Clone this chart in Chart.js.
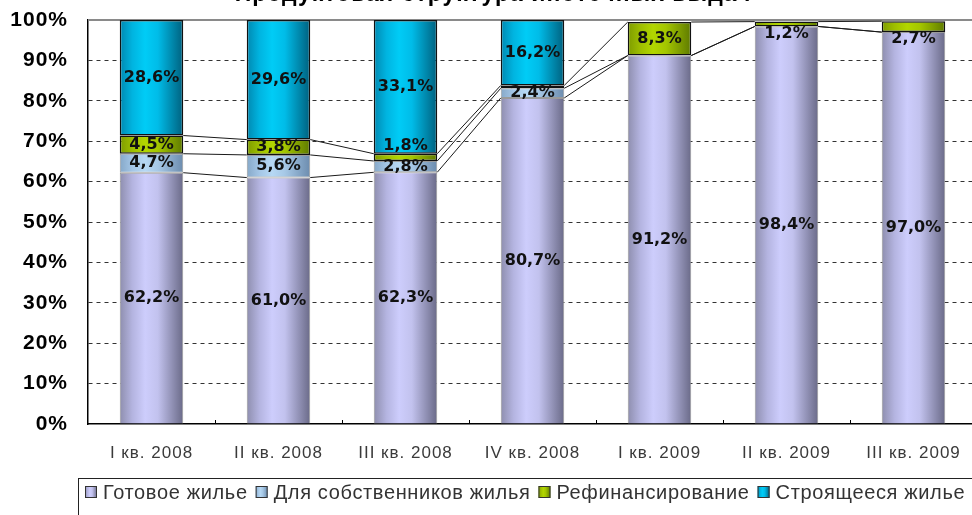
<!DOCTYPE html>
<html lang="ru">
<head>
<meta charset="utf-8">
<script src="https://cdn.jsdelivr.net/npm/chart.js@4.4.1/dist/chart.umd.min.js"></script>
<style>
  html, body { margin: 0; padding: 0; background: #fff; overflow: hidden; }
  #wrap { position: absolute; left: 0; top: -14px; width: 980px; height: 529px; }
</style>
</head>
<body>
<div id="wrap"><canvas id="mortgageChart"></canvas></div>
<script>
const quarters = ["I кв. 2008", "II кв. 2008", "III кв. 2008", "IV кв. 2008", "I кв. 2009", "II кв. 2009", "III кв. 2009"];
const readyHousing = [62.2, 61.0, 62.3, 80.7, 91.2, 98.4, 97.0];
const forOwners = [4.7, 5.6, 2.8, 2.4, 0, 0, 0];
const refinancing = [4.5, 3.8, 1.8, 0.7, 8.3, 1.2, 2.7];
const underConstruction = [28.6, 29.6, 33.1, 16.2, 0, 0, 0];
const percentTicks = [0, 10, 20, 30, 40, 50, 60, 70, 80, 90, 100];

const BAR_SHARE = 0.5;

// horizontal "cylinder" shading for each bar
function cylinder(stops) {
    return (c) => {
        const chart = c.chart;
        const xs = chart.scales.x;
        if (!chart.chartArea || !xs || c.dataIndex === undefined) return stops[2][1];
        const cx = xs.getPixelForValue(c.dataIndex);
        const half = (xs.width / quarters.length) * BAR_SHARE / 2;
        const g = chart.ctx.createLinearGradient(cx - half, 0, cx + half, 0);
        stops.forEach(([o, col]) => g.addColorStop(o, col));
        return g;
    };
}

const lavender = [[0, "#8e8eae"], [0.2, "#b4b4e0"], [0.4, "#cdcdfc"], [0.6, "#c2c2ee"], [1, "#6a6a88"]];
const paleBlue = [[0, "#86a8c8"], [0.2, "#a4c6e6"], [0.4, "#b6d8f4"], [0.6, "#a6c8e6"], [1, "#6c8cae"]];
const olive = [[0, "#7e9c00"], [0.2, "#9ebe00"], [0.4, "#b2d600"], [0.6, "#a4c600"], [1, "#5e7a00"]];
const azure = [[0, "#0088b0"], [0.2, "#00b4e0"], [0.4, "#00ccf6"], [0.6, "#00bce8"], [1, "#00607e"]];

const fmt = (v) => v.toFixed(1).replace(".", ",") + "%";

// axis text is slightly letter-spaced; switched off again before the bars
const axisSpacing = {
    id: "axisSpacing",
    beforeDraw(chart) { chart.ctx.letterSpacing = "1px"; },
    beforeDatasetsDraw(chart) { chart.ctx.letterSpacing = "0px"; },
};

// frame line over the plot and small inner ticks between quarters
const plotFrame = {
    id: "plotFrame",
    beforeDatasetsDraw(chart) {
        const { ctx, chartArea } = chart;
        ctx.save();
        ctx.strokeStyle = "#8a8a8a";
        ctx.lineWidth = 2;
        ctx.beginPath();
        ctx.moveTo(chartArea.left, chartArea.top);
        ctx.lineTo(chartArea.right, chartArea.top);
        ctx.stroke();

        const xs = chart.scales.x;
        ctx.strokeStyle = "#000";
        ctx.lineWidth = 1;
        for (let i = 0; i < quarters.length - 1; i++) {
            const x = Math.round((xs.getPixelForValue(i) + xs.getPixelForValue(i + 1)) / 2) + 0.5;
            ctx.beginPath();
            ctx.moveTo(x, chartArea.bottom - 4);
            ctx.lineTo(x, chartArea.bottom);
            ctx.stroke();
        }
        ctx.restore();
    },
};

// series lines joining the tops of each segment between neighbouring bars
const seriesLines = {
    id: "seriesLines",
    afterDatasetsDraw(chart) {
        const { ctx } = chart;
        ctx.save();
        ctx.strokeStyle = "#1a1a1a";
        ctx.lineWidth = 1;
        for (let d = 0; d < 3; d++) {
            const meta = chart.getDatasetMeta(d);
            for (let i = 0; i < meta.data.length - 1; i++) {
                const a = meta.data[i];
                const b = meta.data[i + 1];
                ctx.beginPath();
                ctx.moveTo(a.x + a.width / 2, a.y);
                ctx.lineTo(b.x - b.width / 2, b.y);
                ctx.stroke();
            }
        }
        ctx.restore();
    },
};

// value labels in the middle of each segment
const segmentLabels = {
    id: "segmentLabels",
    afterDatasetsDraw(chart) {
        const { ctx, chartArea } = chart;
        ctx.save();
        ctx.font = 'bold 16px "DejaVu Sans", sans-serif';
        ctx.fillStyle = "#111";
        ctx.textAlign = "center";
        ctx.textBaseline = "middle";
        for (let i = 0; i < quarters.length; i++) {
            let prev = null;
            chart.data.datasets.forEach((ds, d) => {
                const v = ds.data[i];
                if (v < 1) return;
                const el = chart.getDatasetMeta(d).data[i];
                let y = (el.y + el.base) / 2;
                if (prev !== null && prev - y < 14) y = el.y - 8;
                if (y - 8 < chartArea.top) y = el.base + 7;
                ctx.fillText(fmt(v), el.x, y);
                prev = y;
            });
        }
        ctx.restore();
    },
};

// boxed legend under the axis
const boxedLegend = {
    id: "boxedLegend",
    afterDraw(chart) {
        const { ctx, chartArea } = chart;
        const top = chart.scales.x.bottom;
        const box = 12, gap = 6, itemGap = 8;
        ctx.save();
        ctx.font = '20px "Liberation Sans", Arial, sans-serif';
        ctx.letterSpacing = "0.65px";
        const items = chart.data.datasets.map((ds) => ({ ds, w: ctx.measureText(ds.label).width }));
        const total = items.reduce((s, it) => s + box + gap + it.w, 0) + itemGap * (items.length - 1);
        let x = Math.round((chartArea.left + chartArea.right) / 2 - total / 2 - 7);
        const cy = top + 23;

        ctx.strokeStyle = "#222";
        ctx.lineWidth = 1;
        ctx.strokeRect(x - 7 + 0.5, cy - 14 + 0.5, chart.width, 60);

        ctx.textBaseline = "middle";
        items.forEach((it) => {
            const g = ctx.createLinearGradient(x, 0, x + box, 0);
            it.ds.shade.forEach(([o, col]) => g.addColorStop(o, col));
            ctx.fillStyle = g;
            ctx.fillRect(x, cy - 6, box, box);
            ctx.strokeStyle = "#333";
            ctx.strokeRect(x + 0.5, cy - 6 + 0.5, box - 1, box - 1);
            ctx.fillStyle = "#333";
            ctx.fillText(it.ds.label, x + box + gap, cy + 1);
            x += box + gap + it.w + itemGap;
        });
        ctx.restore();
    },
};

const ctx = document.getElementById("mortgageChart");

new Chart(ctx, {
    type: "bar",
    data: {
        labels: quarters,
        datasets: [
            {
                label: "Готовое жилье",
                data: readyHousing,
                shade: lavender,
                backgroundColor: cylinder(lavender),
                borderColor: "#9a9a9a",
                borderWidth: 1,
                borderSkipped: "bottom",
            },
            {
                label: "Для собственников жилья",
                data: forOwners,
                shade: paleBlue,
                backgroundColor: cylinder(paleBlue),
                borderColor: "#9a9a9a",
                borderWidth: 1,
                borderSkipped: false,
            },
            {
                label: "Рефинансирование",
                data: refinancing,
                shade: olive,
                backgroundColor: cylinder(olive),
                borderColor: "#111",
                borderWidth: 1.5,
                borderSkipped: false,
            },
            {
                label: "Строящееся жилье",
                data: underConstruction,
                shade: azure,
                backgroundColor: cylinder(azure),
                borderColor: "#111",
                borderWidth: 1.5,
                borderSkipped: false,
            },
        ],
    },
    options: {
        responsive: true,
        maintainAspectRatio: false,
        animation: false,
        barPercentage: BAR_SHARE,
        categoryPercentage: 1,
        layout: { padding: { left: 9, right: 3, top: 0, bottom: 46 } },
        plugins: {
            legend: { display: false },
            tooltip: { enabled: false },
            title: {
                display: true,
                text: "Продуктовая структура ипотечных выдач",
                color: "#000",
                font: { family: '"Liberation Sans", Arial, sans-serif', size: 23, weight: "bold" },
                padding: { top: -5, bottom: 11.4 },
            },
        },
        scales: {
            x: {
                stacked: true,
                grid: { display: false, drawTicks: false },
                border: { display: true, color: "#000", width: 1.5 },
                ticks: {
                    color: "#3a3a3a",
                    padding: 19,
                    font: { family: '"Liberation Sans", Arial, sans-serif', size: 17 },
                },
                afterFit: (s) => { s.height = 45; },
            },
            y: {
                stacked: true,
                min: 0,
                max: 100,
                afterBuildTicks: (s) => { s.ticks = percentTicks.map((v) => ({ value: v })); },
                grid: {
                    drawTicks: false,
                    color: (c) => (c.tick && (c.tick.value === 0 || c.tick.value === 100) ? "rgba(0,0,0,0)" : "#333"),
                    lineWidth: 1,
                },
                border: { display: true, color: "#000", width: 1.5, dash: [4, 4] },
                ticks: {
                    color: "#000",
                    padding: 20,
                    font: { family: '"Liberation Sans", Arial, sans-serif', size: 21, weight: "bold" },
                    callback: (v) => v + "%",
                },
                afterFit: (s) => { s.width = 79; },
            },
        },
    },
    plugins: [axisSpacing, plotFrame, seriesLines, segmentLabels, boxedLegend],
});
</script>
</body>
</html>
